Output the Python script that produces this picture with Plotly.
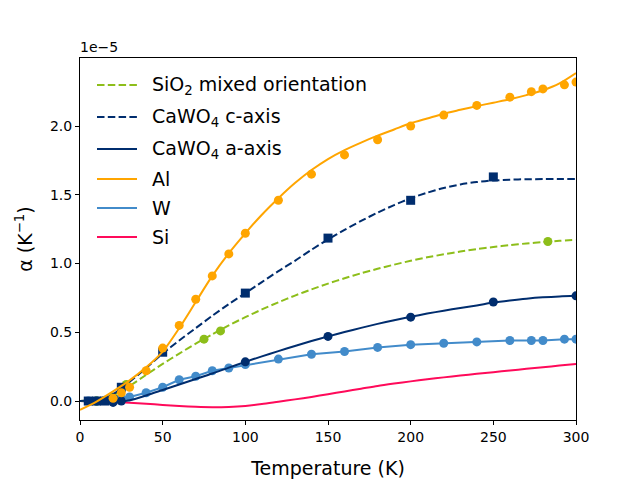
import plotly.graph_objects as go

# ---- data (alpha in units of 1e-5 K^-1) ----
T_fit = [0, 10, 20, 30, 40, 50, 60, 70, 80, 90, 100, 110, 120, 130, 140, 150,
         160, 170, 180, 190, 200, 210, 220, 230, 240, 250, 260, 270, 280, 290, 300]

sio2_fit = [0.0, 0.01, 0.045, 0.11, 0.19, 0.27, 0.345, 0.417, 0.485, 0.55, 0.61, 0.666, 0.718,
            0.767, 0.812, 0.854, 0.893, 0.929, 0.962, 0.992, 1.02, 1.045, 1.067, 1.087, 1.105,
            1.12, 1.134, 1.146, 1.156, 1.165, 1.172]
cawo4_c_fit = [0.0, 0.01, 0.05, 0.14, 0.24, 0.345, 0.44, 0.53, 0.62, 0.705, 0.785, 0.865, 0.945,
               1.02, 1.10, 1.175, 1.245, 1.31, 1.37, 1.425, 1.475, 1.515, 1.55, 1.575, 1.593,
               1.604, 1.61, 1.613, 1.614, 1.615, 1.615]
cawo4_a_fit = [0.0, -0.005, -0.01, 0.005, 0.04, 0.08, 0.12, 0.16, 0.20, 0.243, 0.285, 0.325,
               0.363, 0.40, 0.436, 0.47, 0.502, 0.532, 0.561, 0.588, 0.613, 0.636, 0.657, 0.677,
               0.695, 0.716, 0.731, 0.744, 0.754, 0.761, 0.765]
al_fit = [-0.065, -0.005, 0.07, 0.15, 0.245, 0.36, 0.53, 0.72, 0.91, 1.075, 1.22, 1.355, 1.475,
          1.585, 1.68, 1.76, 1.825, 1.88, 1.93, 1.975, 2.02, 2.055, 2.09, 2.118, 2.145, 2.17,
          2.195, 2.225, 2.26, 2.31, 2.385]
si_fit = [0.0, -0.002, -0.006, -0.012, -0.02, -0.028, -0.036, -0.042, -0.045, -0.043, -0.036,
          -0.022, -0.005, 0.012, 0.03, 0.05, 0.07, 0.09, 0.11, 0.127, 0.143, 0.158, 0.172,
          0.185, 0.198, 0.21, 0.222, 0.234, 0.246, 0.258, 0.27]

T_w = [5, 10, 15, 20, 25, 30, 40, 50, 60, 70, 80, 90, 100, 120, 140, 160, 180, 200, 220,
       240, 260, 273, 280, 293, 300]
w_data = [0.0, 0.0, 0.005, 0.01, 0.02, 0.03, 0.06, 0.10, 0.155, 0.18, 0.22, 0.24, 0.265,
          0.305, 0.34, 0.36, 0.39, 0.41, 0.42, 0.43, 0.44, 0.44, 0.44, 0.45, 0.45]

T_al = [20, 25, 30, 40, 50, 60, 70, 80, 90, 100, 120, 140, 160, 180, 200, 220, 240, 260,
        273, 280, 293, 300]
al_data = [0.02, 0.06, 0.10, 0.22, 0.385, 0.55, 0.74, 0.91, 1.07, 1.22, 1.46, 1.65, 1.79,
           1.90, 2.00, 2.08, 2.15, 2.21, 2.25, 2.27, 2.30, 2.32]

T_c = [5, 10, 15, 20, 25, 50, 100, 150, 200, 250]
cawo4_c_data = [0.0, 0.0, 0.0, 0.01, 0.10, 0.355, 0.785, 1.185, 1.46, 1.63]

T_a = [10, 20, 25, 100, 150, 200, 250, 300]
cawo4_a_data = [0.0, -0.01, 0.0, 0.285, 0.47, 0.61, 0.72, 0.765]

T_sio2 = [10, 20, 28, 75, 85, 283]
sio2_data = [0.0, 0.03, 0.12, 0.45, 0.51, 1.16]

legend_labels = ["SiO<sub>2</sub> mixed orientation", "CaWO<sub>4</sub> c-axis",
                 "CaWO<sub>4</sub> a-axis", "Al", "W", "Si"]

# ---- styles ----
GREEN = "#8DBE1A"
NAVY = "#002D6E"
ORANGE = "#FFA500"
BLUE = "#428BCA"
PINK = "#FF0A5A"
DASH = "7.5px,3.3px"
FONT = "DejaVu Sans"

fig = go.Figure()

def line(x, y, color, dash="solid"):
    fig.add_trace(go.Scatter(x=x, y=y, mode="lines", line=dict(color=color, width=2, dash=dash,
                                                               shape="spline", smoothing=0.8),
                             showlegend=False, hoverinfo="skip"))

def pts(x, y, color, symbol="circle", mode="markers"):
    fig.add_trace(go.Scatter(x=x, y=y, mode=mode,
                             marker=dict(color=color, size=9, symbol=symbol, line=dict(width=0)),
                             line=dict(color=color, width=2),
                             showlegend=False, hoverinfo="skip"))

line(T_fit, si_fit, PINK)
pts(T_w, w_data, BLUE, mode="lines+markers")
line(T_fit, cawo4_a_fit, NAVY)
pts(T_a, cawo4_a_data, NAVY)
line(T_fit, sio2_fit, GREEN, DASH)
pts(T_sio2, sio2_data, GREEN)
line(T_fit, cawo4_c_fit, NAVY, DASH)
pts(T_c, cawo4_c_data, NAVY, symbol="square")
line(T_fit, al_fit, ORANGE)
pts(T_al, al_data, ORANGE)

# ---- manual legend (matplotlib style) ----
leg_colors = [GREEN, NAVY, NAVY, ORANGE, BLUE, PINK]
leg_dash = [DASH, DASH, "solid", "solid", "solid", "solid"]
leg_ypx = [85, 117, 149, 179, 208, 237]
top, bottom, left, right = 58, 420, 80, 576
H = bottom - top
W = right - left
for lab, c, d, ypx in zip(legend_labels, leg_colors, leg_dash, leg_ypx):
    yp = (bottom - ypx) / H
    fig.add_shape(type="line", xref="paper", yref="paper",
                  x0=(97 - left) / W, x1=(137 - left) / W, y0=yp, y1=yp,
                  line=dict(color=c, width=2, dash=d))
    fig.add_annotation(xref="paper", yref="paper", x=(150 - left) / W, y=yp,
                       xanchor="left", yanchor="middle", text=lab, showarrow=False,
                       font=dict(family=FONT, size=19, color="black"))

fig.add_annotation(xref="paper", yref="paper", x=0, y=1, xanchor="left", yanchor="bottom",
                   text="1e\u22125", showarrow=False, yshift=1, xshift=-2,
                   font=dict(family=FONT, size=14, color="black"))

axis_common = dict(showline=True, linecolor="black", linewidth=1, mirror=True,
                   ticks="outside", ticklen=4, tickcolor="black", showgrid=False,
                   zeroline=False, automargin=False,
                   tickfont=dict(family=FONT, size=14, color="black"))

fig.update_layout(
    width=640, height=480,
    margin=dict(l=left, r=640 - right, t=top, b=480 - bottom),
    plot_bgcolor="white", paper_bgcolor="white",
    font=dict(family=FONT, color="black"),
    xaxis=dict(range=[0, 300], tickvals=[0, 50, 100, 150, 200, 250, 300],
               title=dict(text="Temperature (K)", font=dict(family=FONT, size=19), standoff=17),
               **axis_common),
    yaxis=dict(range=[-0.138, 2.495], tickvals=[0, 0.5, 1.0, 1.5, 2.0],
               ticktext=["0.0", "0.5", "1.0", "1.5", "2.0"],
               title=dict(text="\u03b1 (K<sup>\u22121</sup>)", font=dict(family=FONT, size=19),
                          standoff=12),
               **axis_common),
)

fig.write_html("out.html")
